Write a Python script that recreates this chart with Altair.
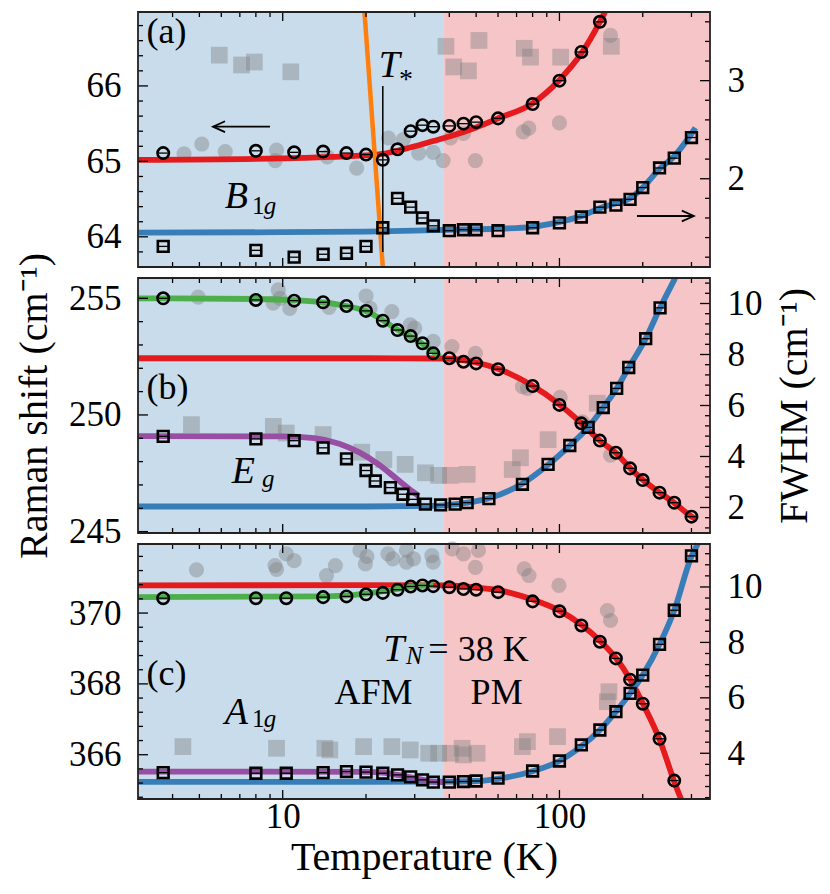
import altair as alt
import pandas as pd

FONT = "Liberation Serif"
T_MIN, T_MAX, T_N = 3, 350, 38

# ======================= DATA =======================
# ---- panel (a)  B1g ----
a_circ_T = [3.7, 8, 11, 14, 17, 20, 23, 26, 29, 32, 35, 40, 45, 50, 60, 80, 100, 120, 140]
a_shift = [65.11, 65.14, 65.12, 65.13, 65.11, 65.09, 65.02, 65.16, 65.40, 65.48, 65.46, 65.47,
           65.50, 65.52, 65.57, 65.76, 66.07, 66.45, 66.85]
a_sq_T = [3.7, 8, 11, 14, 17, 20, 23, 26, 29, 32, 35, 40, 45, 50, 60, 80, 100, 120, 140, 160,
          180, 200, 230, 260, 300]
a_fwhm = [1.31, 1.27, 1.20, 1.23, 1.24, 1.31, 1.50, 1.80, 1.71, 1.60, 1.52, 1.47, 1.48, 1.48,
          1.47, 1.50, 1.55, 1.61, 1.71, 1.73, 1.79, 1.91, 2.11, 2.21, 2.42]
a_gcirc_T = [4.4, 5.1, 6.2, 9.5, 9.4, 14.5, 18.5, 24.1, 27.3, 31, 35, 38, 40.4, 45, 49.7, 74,
             77.5, 100, 153]
a_gshift = [65.10, 65.23, 65.13, 65.15, 65.01, 65.06, 64.91, 65.31, 65.29, 65.11, 65.12, 65.01,
            65.31, 65.37, 65.01, 65.39, 65.44, 65.51, 66.67]
a_gsq_T = [5.9, 7.1, 7.9, 10.7, 38.9, 41.5, 46.9, 51.2, 74.6, 78.6, 101, 154]
a_gfwhm = [3.26, 3.16, 3.19, 3.09, 3.35, 3.14, 3.10, 3.41, 3.33, 3.24, 3.24, 3.35]
a_red_T = [3, 10, 15, 20, 23, 26.5, 30, 35, 40, 50, 60, 80, 100, 120, 140, 146]
a_red_v = [65.02, 65.04, 65.06, 65.08, 65.10, 65.15, 65.20, 65.27, 65.33, 65.45, 65.57, 65.77,
           66.08, 66.43, 66.85, 66.98]
a_blue_T = [3, 10, 20, 30, 40, 60, 80, 100, 120, 140, 160, 180, 200, 230, 260, 290, 310]
a_blue_v = [1.45, 1.455, 1.46, 1.47, 1.48, 1.49, 1.51, 1.56, 1.62, 1.70, 1.75, 1.80, 1.91, 2.10,
            2.23, 2.40, 2.52]
a_orange_T = [19.75, 23.0]
a_orange_v = [66.98, 63.6]
a_tstar_T = [23.0, 23.0]
a_tstar_v = [66.0, 63.8]

# ---- panel (b)  Eg ----
b_circ_T = [3.7, 8, 11, 14, 17, 20, 23, 26, 29, 32, 35, 40, 45, 50, 60, 80, 100, 120, 140, 160,
            180, 200, 230, 260, 300]
b_shift = [255.0, 254.93, 254.9, 254.83, 254.67, 254.46, 254.04, 253.64, 253.38, 253.07, 252.64,
           252.43, 252.28, 252.21, 251.96, 251.24, 250.43, 249.64, 248.90, 248.38, 247.71, 247.21,
           246.67, 246.24, 245.64]
b_sq_T = [3.7, 8, 11, 14, 17, 20, 21.6, 24.5, 27.2, 29.5, 32.8, 37.2, 42, 46.4, 55.6, 73.5, 91,
          109, 127, 144, 161, 178, 205, 231]
b_fwhm = [4.79, 4.69, 4.62, 4.34, 3.91, 3.45, 3.04, 2.78, 2.52, 2.32, 2.13, 2.10, 2.13, 2.19,
          2.35, 2.91, 3.69, 4.43, 5.14, 5.92, 6.67, 7.49, 8.62, 9.83]
b_gcirc_T = [4.95, 9.64, 9.24, 9.78, 10.6, 14.7, 20, 20.7, 24.8, 28.9, 30, 35, 40.9, 49.7, 73.5,
             76.6, 100.6, 121, 153]
b_gshift = [255.05, 255.36, 254.79, 255.0, 254.57, 254.61, 255.1, 254.57, 254.43, 253.86, 253.72,
            253.15, 252.93, 252.64, 251.21, 251.14, 250.75, 249.7, 248.28]
b_gsq_T = [4.68, 9.25, 10.3, 14.0, 19.3, 23.2, 27.7, 32.8, 36.6, 40.4, 46.4, 67.5, 72.3, 91, 137]
b_gfwhm = [5.25, 5.18, 4.92, 4.86, 4.17, 3.88, 3.69, 3.36, 3.26, 3.26, 3.30, 3.49, 3.95, 4.66, 6.09]
b_green_T = [3, 8, 11, 14, 17, 20, 23, 26, 29, 32, 35, 37]
b_green_v = [255.0, 254.97, 254.92, 254.83, 254.67, 254.45, 254.06, 253.65, 253.35, 253.05,
             252.7, 252.5]
b_red_T = [3, 20, 38, 45, 50, 60, 80, 100, 120, 140, 160, 180, 200, 230, 260, 300, 310]
b_red_v = [252.43, 252.43, 252.42, 252.35, 252.25, 251.98, 251.25, 250.45, 249.65, 248.9, 248.37,
           247.72, 247.22, 246.67, 246.23, 245.65, 245.55]
b_purple_T = [3, 10, 13, 16, 19, 22, 25, 27.5, 29.5, 31]
b_purple_v = [4.80, 4.79, 4.72, 4.50, 4.15, 3.72, 3.25, 2.88, 2.62, 2.45]
b_blue_T = [3, 20, 35, 40, 46, 56, 73, 91, 109, 127, 144, 161, 178, 205, 231, 262]
b_blue_v = [2.04, 2.04, 2.06, 2.10, 2.18, 2.37, 2.92, 3.68, 4.43, 5.14, 5.92, 6.67, 7.49, 8.62,
            9.83, 11.0]

# ---- panel (c)  A1g ----
c_circ_T = [3.7, 8, 10.3, 14, 17, 20, 23, 26, 29, 32, 35, 40, 45, 50, 60, 80, 100, 120, 140, 160,
            180, 200, 230, 260]
c_shift = [370.42, 370.42, 370.42, 370.45, 370.47, 370.53, 370.57, 370.66, 370.75, 370.78, 370.76,
           370.73, 370.68, 370.66, 370.59, 370.33, 370.05, 369.65, 369.19, 368.72, 368.12, 367.44,
           366.45, 365.27]
c_sq_T = [3.7, 8, 10.3, 14, 17, 20, 23, 26, 29, 32, 35, 40, 45, 50, 60, 80, 100, 120, 140, 160,
          180, 200, 230, 260, 300]
c_fwhm = [3.30, 3.28, 3.28, 3.30, 3.34, 3.32, 3.28, 3.22, 3.15, 3.04, 2.96, 2.96, 2.98, 3.0, 3.10,
          3.36, 3.72, 4.30, 4.84, 5.50, 6.16, 6.82, 7.93, 9.16, 11.12]
c_gcirc_T = [4.88, 9.38, 9.5, 10.3, 11, 14.4, 15.5, 19, 19.9, 20.15, 24, 25, 28, 28, 29.7, 34.6,
             35, 41, 45, 49.7, 51, 74.6, 77.6, 99.6, 149, 153]
c_gshift = [371.22, 371.34, 371.23, 371.67, 371.48, 371.06, 371.34, 371.77, 371.39, 371.60, 371.67,
            371.53, 371.77, 371.44, 371.53, 371.62, 371.44, 371.81, 371.67, 371.29, 371.77, 371.25,
            371.06, 370.78, 370.07, 369.79]
c_gsq_T = [4.36, 9.5, 14.2, 14.8, 19.6, 24.8, 28.9, 33.7, 36.6, 40.4, 44.5, 45, 50.4, 73.5, 76.6,
           98.4, 149, 151]
c_gfwhm = [4.24, 4.18, 4.18, 4.12, 4.24, 4.24, 4.12, 4.0, 4.0, 4.0, 4.18, 3.94, 4.0, 4.24, 4.42,
           4.6, 5.86, 6.22]
c_red_T = [3, 20, 40, 50, 60, 80, 100, 120, 140, 160, 180, 200, 230, 260, 275]
c_red_v = [370.78, 370.79, 370.78, 370.72, 370.65, 370.38, 370.07, 369.67, 369.22, 368.73, 368.13,
           367.45, 366.43, 365.24, 364.75]
c_green_T = [3, 14, 20, 26, 30, 35]
c_green_v = [370.45, 370.47, 370.55, 370.68, 370.76, 370.79]
c_purple_T = [3, 20, 23, 26, 30, 35, 38]
c_purple_v = [3.34, 3.33, 3.30, 3.22, 3.10, 2.98, 2.96]
c_blue_T = [3, 20, 40, 50, 60, 80, 100, 120, 140, 160, 180, 200, 230, 260, 300, 316]
c_blue_v = [2.97, 2.97, 2.98, 3.0, 3.08, 3.35, 3.72, 4.25, 4.84, 5.5, 6.16, 6.82, 7.93, 9.16,
            11.1, 11.55]

# ---- tick labels ----
x_major = [10, 100]
x_minor = [4, 5, 6, 7, 8, 9, 20, 30, 40, 50, 60, 70, 80, 90, 200, 300]

# ======================= STYLE / LAYOUT =======================
RED, BLUE, GREEN, PURPLE, ORANGE = "#e41a1c", "#377eb8", "#4daf4a", "#984ea3", "#ff7f0e"
BG_BLUE, BG_PINK = "#c9dcec", "#f6c5c8"
W, PH, GAP = 572, 255, 11
H = 3 * PH + 2 * GAP
TICK_FS, TITLE_FS, ANN_FS, MATH_FS, SUB_FS = 35, 40, 36, 38, 25


def minors(lo, hi, step, majors):
    out, k = [], -200
    while True:
        val = round(majors[0] + k * step, 4)
        k += 1
        if val <= lo + 1e-9:
            continue
        if val >= hi - 1e-9:
            break
        if all(abs(val - m) > 1e-6 for m in majors):
            out.append(val)
    return out


P = {
    "a": dict(left=[63.6, 66.98], right=[1.1, 3.7], rng=[PH, 0],
              lmaj=[64, 65, 66], lstep=0.2, rmaj=[2, 3], rstep=0.2),
    "b": dict(left=[244.94, 255.87], right=[1.0, 11.0], rng=[2 * PH + GAP, PH + GAP],
              lmaj=[245, 250, 255], lstep=1.0, rmaj=[2, 4, 6, 8, 10], rstep=0.4),
    "c": dict(left=[364.75, 371.95], right=[2.35, 11.55], rng=[H, 2 * PH + 2 * GAP],
              lmaj=[366, 368, 370], lstep=0.4, rmaj=[4, 6, 8, 10], rstep=0.4),
}
for p in P.values():
    p["lmin"] = minors(p["left"][0], p["left"][1], p["lstep"], p["lmaj"])
    p["rmin"] = minors(p["right"][0], p["right"][1], p["rstep"], p["rmaj"])

LBL = dict(ticks=False, domain=False, grid=False, labelFont=FONT, labelFontSize=TICK_FS,
           labelColor="black", tickSize=0, format="d", titleFont=FONT, titleFontSize=TITLE_FS,
           titleColor="black", titleFontWeight="normal")

X_SCALE = alt.Scale(type="log", domain=[T_MIN, T_MAX], nice=False)
X_AXIS = alt.Axis(orient="bottom", values=x_major, title="Temperature (K)", labelPadding=0,
                  titlePadding=3, **LBL)


def xenc(field="T"):
    return alt.X(f"{field}:Q", scale=X_SCALE, axis=X_AXIS)


def yenc(p, side, field="v", axis=None):
    dom = p["left"] if side == "L" else p["right"]
    return alt.Y(f"{field}:Q", scale=alt.Scale(domain=dom, range=p["rng"], zero=False, nice=False),
                 axis=axis)


def df(T, v):
    return pd.DataFrame({"T": T, "v": v})


def line(p, side, T, v, color, width=5.8):
    return alt.Chart(df(T, v)).mark_line(color=color, strokeWidth=width, interpolate="monotone",
                                         strokeCap="butt").encode(x=xenc(), y=yenc(p, side))


def pts(p, side, T, v, shape, size, filled, color, opacity=1.0, sw=2.6):
    if filled:
        m = alt.Chart(df(T, v)).mark_point(shape=shape, size=size, filled=True, color=color,
                                           opacity=opacity, strokeWidth=0)
    else:
        m = alt.Chart(df(T, v)).mark_point(shape=shape, size=size, filled=False, color=color,
                                           opacity=opacity, strokeWidth=sw)
    return m.encode(x=xenc(), y=yenc(p, side))


def bar_in(p, side, T, v):
    return alt.Chart(df(T, v)).mark_point(shape="M-1,0L1,0", size=80, filled=False, color="black",
                                          strokeWidth=1.3, opacity=1).encode(x=xenc(), y=yenc(p, side))


def ticks(p, side, T, v, shape, length, axis=None):
    return alt.Chart(df(T, v)).mark_point(shape=shape, size=(2 * length) ** 2, filled=False,
                                          color="black", strokeWidth=1.3, opacity=1).encode(
        x=xenc(), y=yenc(p, side, axis=axis))


def text(p, side, T, v, s, size=ANN_FS, italic=False, align="left", baseline="alphabetic"):
    d = pd.DataFrame({"T": [T], "v": [v], "s": [s]})
    return alt.Chart(d).mark_text(font=FONT, fontSize=size, fontStyle="italic" if italic else "normal",
                                  align=align, baseline=baseline, color="black").encode(
        x=xenc(), y=yenc(p, side), text="s:N")


def rect(p, T0, T1, color=None, frame=False):
    d = pd.DataFrame({"T": [T0], "T1": [T1], "v0": [p["left"][0]], "v1": [p["left"][1]]})
    if frame:
        m = alt.Chart(d).mark_rect(fillOpacity=0, stroke="#222222", strokeWidth=1.8)
    else:
        m = alt.Chart(d).mark_rect(color=color)
    return m.encode(x=xenc("T"), x2="T1:Q", y=yenc(p, "L", "v0"), y2="v1:Q")


def frame_and_ticks(p, name):
    lay = []
    lo, hi = p["left"]
    lay.append(ticks(p, "L", x_major, [hi] * len(x_major), "M0,0L0,1", 9))
    lay.append(ticks(p, "L", x_major, [lo] * len(x_major), "M0,0L0,-1", 9))
    lay.append(ticks(p, "L", x_minor, [hi] * len(x_minor), "M0,0L0,1", 5))
    lay.append(ticks(p, "L", x_minor, [lo] * len(x_minor), "M0,0L0,-1", 5))
    la = dict(orient="left", values=p["lmaj"], labelPadding=17, **LBL)
    if name == "b":
        la.update(title="Raman shift (cm\u207b\u00b9)", titlePadding=14)
    else:
        la.update(title=None)
    lay.append(ticks(p, "L", [T_MIN] * len(p["lmaj"]), p["lmaj"], "M0,0L1,0", 10,
                     axis=alt.Axis(**la)))
    lay.append(ticks(p, "L", [T_MIN] * len(p["lmin"]), p["lmin"], "M0,0L1,0", 5))
    ra = dict(orient="right", values=p["rmaj"], labelPadding=17, **LBL)
    if name == "b":
        ra.update(title="FWHM (cm\u207b\u00b9)", titlePadding=12, titleAngle=270,
                  titleBaseline="top")
    else:
        ra.update(title=None)
    lay.append(ticks(p, "R", [T_MAX] * len(p["rmaj"]), p["rmaj"], "M0,0L-1,0", 10,
                     axis=alt.Axis(**ra)))
    lay.append(ticks(p, "R", [T_MAX] * len(p["rmin"]), p["rmin"], "M0,0L-1,0", 5))
    lay.append(rect(p, T_MIN, T_MAX, frame=True))
    return lay


def grey(p, cT, cv, sT, sv):
    return [pts(p, "L", cT, cv, "circle", 230, True, "#808080", 0.42),
            pts(p, "R", sT, sv, "square", 280, True, "#808080", 0.42)]


def black(p, cT, cv, sT, sv):
    return [pts(p, "L", cT, cv, "circle", 130, False, "black"),
            bar_in(p, "L", cT, cv),
            pts(p, "R", sT, sv, "square", 115, False, "black"),
            bar_in(p, "R", sT, sv)]


layers = []
for name in ["a", "b", "c"]:
    layers += [rect(P[name], T_MIN, T_N, BG_BLUE), rect(P[name], T_N, T_MAX, BG_PINK)]

pa, pb, pc = P["a"], P["b"], P["c"]
# panel a
layers += grey(pa, a_gcirc_T, a_gshift, a_gsq_T, a_gfwhm)
layers += [line(pa, "L", a_red_T, a_red_v, RED), line(pa, "R", a_blue_T, a_blue_v, BLUE),
           line(pa, "L", a_orange_T, a_orange_v, ORANGE, 4.5),
           line(pa, "L", a_tstar_T, a_tstar_v, "black", 1.5)]
layers += black(pa, a_circ_T, a_shift, a_sq_T, a_fwhm)
# panel b
layers += grey(pb, b_gcirc_T, b_gshift, b_gsq_T, b_gfwhm)
layers += [line(pb, "L", b_red_T, b_red_v, RED), line(pb, "L", b_green_T, b_green_v, GREEN),
           line(pb, "R", b_blue_T, b_blue_v, BLUE), line(pb, "R", b_purple_T, b_purple_v, PURPLE)]
layers += black(pb, b_circ_T, b_shift, b_sq_T, b_fwhm)
# panel c
layers += grey(pc, c_gcirc_T, c_gshift, c_gsq_T, c_gfwhm)
layers += [line(pc, "L", c_red_T, c_red_v, RED), line(pc, "L", c_green_T, c_green_v, GREEN),
           line(pc, "R", c_blue_T, c_blue_v, BLUE), line(pc, "R", c_purple_T, c_purple_v, PURPLE)]
layers += black(pc, c_circ_T, c_shift, c_sq_T, c_fwhm)

for name in ["a", "b", "c"]:
    layers += frame_and_ticks(P[name], name)

# arrows (panel a)
arrow_left_T, arrow_left_v = [5.6, 9.0], 65.46
arrow_right_T, arrow_right_v = [190.6, 305.9], 1.62
for T2, v, side, head in [(arrow_left_T, arrow_left_v, "L", "M1,-0.45L0,0L1,0.45"),
                          (arrow_right_T, arrow_right_v, "R", "M-1,-0.45L0,0L-1,0.45")]:
    d = pd.DataFrame({"T": [T2[0]], "T1": [T2[1]], "v": [v]})
    layers.append(alt.Chart(d).mark_rule(color="black", strokeWidth=1.8).encode(
        x=xenc(), x2="T1:Q", y=yenc(pa, side)))
    tip = T2[0] if side == "L" else T2[1]
    layers.append(alt.Chart(df([tip], [v])).mark_point(shape=head, size=576, filled=False,
                                                       color="black", strokeWidth=1.8, opacity=1)
                  .encode(x=xenc(), y=yenc(pa, side)))

# annotations
layers += [
    text(pa, "L", 3.22, 66.72, "(a)", baseline="middle"),
    text(pa, "L", 24.3, 66.26, "T", size=MATH_FS, italic=True, align="center", baseline="middle"),
    text(pa, "L", 27.9, 66.08, "*", size=28, align="center", baseline="middle"),
    text(pa, "L", 6.18, 64.385, "B", size=MATH_FS, italic=True),
    text(pa, "L", 7.74, 64.30, "1", size=SUB_FS),
    text(pa, "L", 8.55, 64.30, "g", size=SUB_FS, italic=True),
    text(pb, "L", 3.22, 251.16, "(b)", baseline="middle"),
    text(pb, "L", 6.55, 247.09, "E", size=MATH_FS, italic=True),
    text(pb, "L", 8.41, 246.9, "g", size=SUB_FS, italic=True),
    text(pc, "L", 3.22, 368.29, "(c)", baseline="middle"),
    text(pc, "L", 6.18, 366.88, "A", size=MATH_FS, italic=True),
    text(pc, "L", 7.74, 366.77, "1", size=SUB_FS),
    text(pc, "L", 8.55, 366.77, "g", size=SUB_FS, italic=True),
    text(pc, "L", 23.1, 368.66, "T", size=MATH_FS, italic=True),
    text(pc, "L", 27.9, 368.55, "N", size=SUB_FS, italic=True),
    text(pc, "L", 33.6, 368.66, "= 38 K"),
    text(pc, "L", 21.3, 367.42, "AFM", align="center"),
    text(pc, "L", 59.3, 367.42, "PM", align="center"),
]

chart = alt.layer(*layers).resolve_scale(y="independent").properties(
    width=W, height=H, autosize=alt.AutoSizeParams(type="none"),
    padding={"left": 130, "top": 4, "right": 110, "bottom": 84}
).configure_view(stroke=None)

chart.save("out.html", embed_options={"renderer": "svg", "actions": False})
